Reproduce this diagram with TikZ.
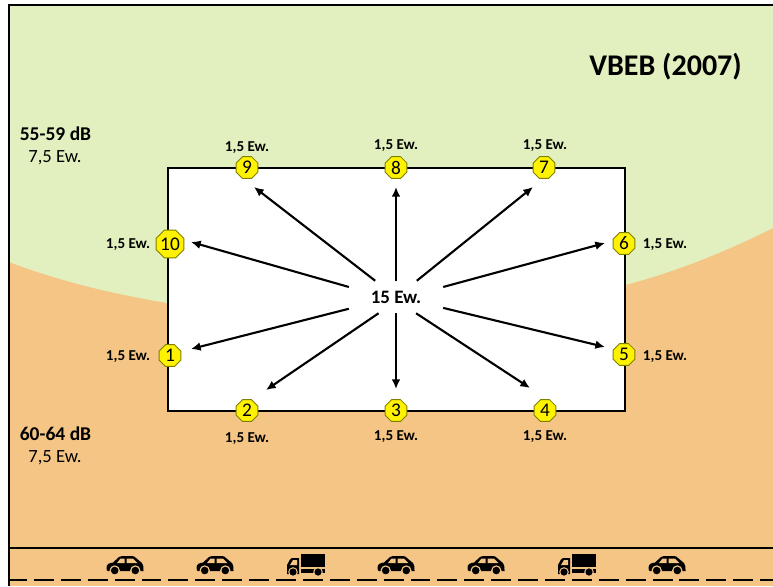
\documentclass[tikz,border=0pt]{standalone}
\usepackage{fontspec}
\setmainfont{Carlito}
\usetikzlibrary{shapes.geometric,arrows.meta}
\definecolor{zonegreen}{HTML}{E2F0C0}
\definecolor{zoneorange}{HTML}{F4C585}
\definecolor{stopline}{HTML}{7F7F00}
\tikzset{
	stoppoint/.style={regular polygon, regular polygon sides=8, draw=stopline, line width=0.5pt, fill=yellow, inner sep=0pt, minimum size=13.4pt, font=\fontsize{11}{11}\selectfont},
	ewlabel/.style={font=\fontsize{8.6}{10}\selectfont\bfseries},
	zonelabel/.style={font=\fontsize{11.1}{13}\selectfont\bfseries},
	zonecount/.style={font=\fontsize{10.6}{13}\selectfont},
	ray/.style={line width=1.2pt, -{Latex[length=5.5pt, width=5pt]}}
}
\def\car(#1){
	\begin{scope}[shift={(#1,0)}]
		\fill (-18.5,568) .. controls (-18.5,564) and (-16,563) .. (-12,562.5) -- (-6,557) .. controls (-5,556) and (-4,556) .. (-3,556) -- (7,556) .. controls (9,556) and (10,557) .. (11,558) -- (17,563) .. controls (18.5,565) and (18.5,567) .. (18.5,571) -- (-17,571) .. controls (-18,571) and (-18.5,570) .. cycle;
		\fill[zoneorange] (-8,563) -- (-4.5,558.5) -- (-0.5,558.5) -- (-0.5,563) -- cycle;
		\fill[zoneorange] (1.5,558.5) -- (8,558.5) -- (12.5,563) -- (1.5,563) -- cycle;
		\fill[zoneorange] (-10.3,570.5) circle (5.2);
		\fill[zoneorange] (10.3,570.5) circle (5.2);
		\fill (-10.3,570.5) circle (3.8);
		\fill (10.3,570.5) circle (3.8);
	\end{scope}
}
\def\truck(#1){
	\begin{scope}[shift={(#1,0)}]
		\fill (-5.5,554) rectangle (19,567);
		\fill (-5.5,569) rectangle (19,573);
		\fill (-6.8,558) -- (-14,558) .. controls (-15,558) and (-15.5,558.5) .. (-16,559.5) -- (-19,565) -- (-19,574) -- (-6.8,574) -- cycle;
		\fill[zoneorange] (-13,560) -- (-9,560) -- (-9,565) -- (-16,565) -- cycle;
		\fill[zoneorange] (-13,572) circle (4.8);
		\fill[zoneorange] (12,572) circle (4.8);
		\fill (-13,572) circle (3.6);
		\fill (12,572) circle (3.6);
	\end{scope}
}

\begin{document}
\begin{tikzpicture}[x=0.02cm, y=-0.02cm]
	\useasboundingbox (0,0) rectangle (773,586);
	%%%%% ZONES %%%%%
	\fill[zoneorange] (9,5) rectangle (773,586);
	\fill[zonegreen] (9,5) -- (773,5) -- (773,228) .. controls (725,252) and (675,272) .. (625,285) -- (167,303) .. controls (115,294) and (65,283) .. (9,262) -- cycle;
	\draw[line width=1.2pt] (9,586) -- (9,5) -- (773,5);

	%%%%% ROAD %%%%%
	\draw[line width=1.6pt] (9,548) -- (773,548);
	\draw[line width=1.6pt, dash pattern=on 11.34pt off 3.97pt, dash phase=1.7pt] (10,580) -- (773,580);
	\foreach \x in {125,215,396,486,667} {\car(\x)}
	\foreach \x in {306,577} {\truck(\x)}

	%%%%% BUILDING %%%%%
	\draw[line width=1.6pt, fill=white] (168,168) rectangle (625,411);
	\node[inner sep=0pt, minimum width=53.3pt, minimum height=18.1pt, font=\fontsize{10.8}{13}\selectfont\bfseries] (hub) at (396,297) {15 Ew.};

	%%%%% FACADE POINTS %%%%%
	\foreach \n/\px/\py/\lx/\ly in {1/170/355.5/128/356.5, 2/247/410.5/247/438.5, 3/396/410.5/396/436.5, 4/545/410.5/545/436.5, 5/624/354.5/665/356.5, 6/624/243.5/665/244.5, 7/544/167.5/545/145.5, 8/396/167.5/396/145.5, 9/247/167.5/247/147.5, 10/170/244/128/244.5} {
		\node[stoppoint] (p\n) at (\px,\py) {\n};
		\node[ewlabel] (e\n) at (\lx,\ly) {1,5 Ew.};
	}

	%%%%% ARROWS %%%%%
	\foreach \n/\a/\tx/\ty in {1/194/191/349, 2/223/266/390, 3/270/396/389, 4/321/530/388, 5/347/605/347, 6/12/605/243, 7/38.7/533/187, 8/90/396/187, 9/142.7/254/187, 10/168/191/242} {
		\coordinate (t\n) at (\tx,\ty);
		\draw[ray] (hub.\a) -- (t\n);
	}

	%%%%% TEXT %%%%%
	\node[font=\fontsize{17.1}{20}\selectfont\bfseries] (title) at (665.5,67) {VBEB (2007)};
	\node[zonelabel] (dbtop) at (55.5,134) {55-59 dB};
	\node[zonecount] (ewtop) at (55,158) {7,5 Ew.};
	\node[zonelabel] (dbbot) at (55.5,434) {60-64 dB};
	\node[zonecount] (ewbot) at (55,458) {7,5 Ew.};
\end{tikzpicture}
\end{document}
